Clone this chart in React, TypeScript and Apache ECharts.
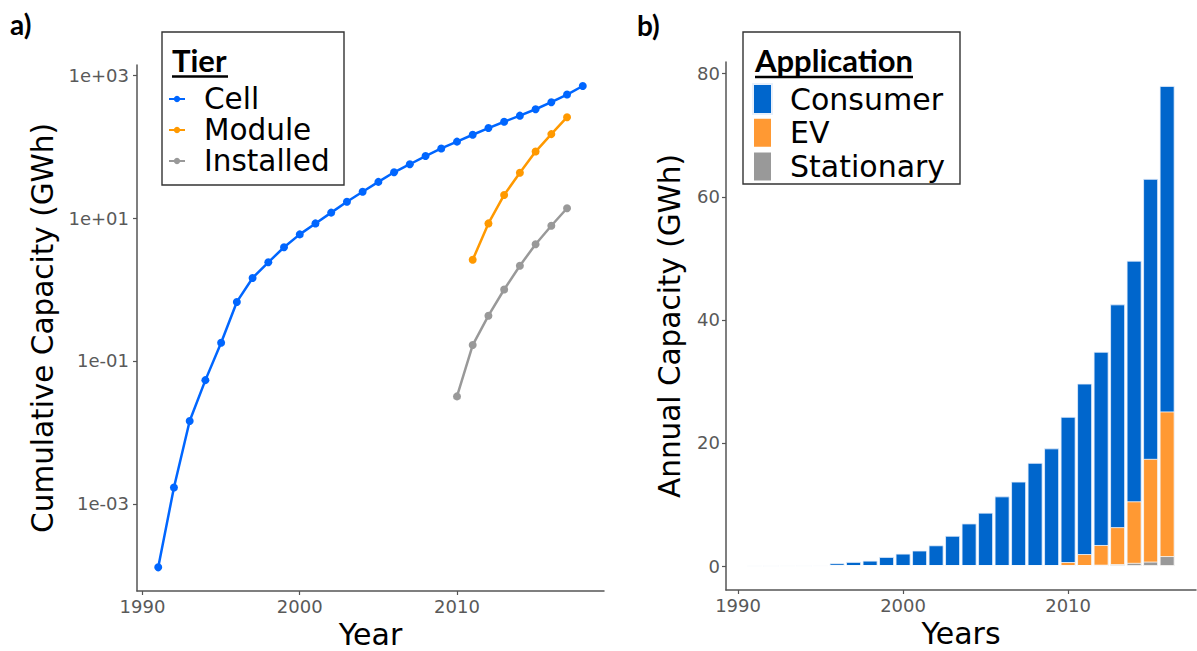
import React, { useEffect, useRef } from "react";
import * as echarts from "echarts";

// ---------- Panel a) cumulative capacity (GWh), log scale ----------
const cellYears = [1991, 1992, 1993, 1994, 1995, 1996, 1997, 1998, 1999, 2000, 2001, 2002, 2003, 2004, 2005, 2006, 2007, 2008, 2009, 2010, 2011, 2012, 2013, 2014, 2015, 2016, 2017, 2018];
const cellValues = [0.00013, 0.0017, 0.0145, 0.054, 0.18, 0.67, 1.45, 2.4, 3.9, 5.9, 8.4, 11.9, 16.9, 23.3, 32, 43.6, 56.5, 73.6, 94, 117, 146, 181, 222, 270, 332, 417, 533, 702];
const moduleYears = [2011, 2012, 2013, 2014, 2015, 2016, 2017];
const moduleValues = [2.6, 8.4, 21, 43, 85, 149, 257];
const installedYears = [2010, 2011, 2012, 2013, 2014, 2015, 2016, 2017];
const installedValues = [0.032, 0.167, 0.43, 1.0, 2.15, 4.3, 7.8, 13.7];
const logTickExponents = [-3, -1, 1, 3];
const yearTicks = [1990, 2000, 2010];

// ---------- Panel b) annual capacity (GWh), stacked bars ----------
const barYears = [1991, 1992, 1993, 1994, 1995, 1996, 1997, 1998, 1999, 2000, 2001, 2002, 2003, 2004, 2005, 2006, 2007, 2008, 2009, 2010, 2011, 2012, 2013, 2014, 2015, 2016];
const consumerValues = [0.0001, 0.0015, 0.013, 0.04, 0.13, 0.43, 0.65, 0.86, 1.46, 2.0, 2.5, 3.35, 4.9, 6.9, 8.65, 11.3, 13.7, 16.75, 19.1, 23.6, 27.7, 31.4, 36.2, 39.1, 45.5, 52.9];
const evValues = [0, 0, 0, 0, 0, 0, 0, 0, 0, 0, 0, 0, 0, 0, 0, 0, 0, 0, 0, 0.6, 1.8, 3.2, 6.0, 10.0, 16.7, 23.5];
const stationaryValues = [0, 0, 0, 0, 0, 0, 0, 0, 0, 0, 0, 0, 0, 0, 0, 0, 0, 0, 0, 0.03, 0.13, 0.2, 0.3, 0.5, 0.7, 1.6];
const annualTicks = [0, 20, 40, 60, 80];

const FONT = "DejaVu Sans";
const AXIS_COLOR = "#555555";
const LABEL_COLOR = "#595959";

function logFmt(v: number): string {
  const e = Math.round(v);
  const s = Math.abs(e) < 10 ? "0" + Math.abs(e) : String(Math.abs(e));
  return "1e" + (e >= 0 ? "+" : "-") + s;
}

function axisBase(ticks: number[], margin: number, formatter?: (v: number) => string) {
  return {
    axisLine: { show: true, onZero: false, lineStyle: { color: AXIS_COLOR, width: 1.5 } },
    axisTick: { show: true, length: 4, customValues: ticks, lineStyle: { color: AXIS_COLOR, width: 1.2 } },
    axisLabel: {
      show: true,
      customValues: ticks,
      color: LABEL_COLOR,
      fontSize: 18,
      fontFamily: FONT,
      margin,
      formatter: formatter ? (v: number) => formatter(v) : (v: number) => String(v),
    },
    splitLine: { show: false },
  };
}

export default function App() {
  const ref = useRef<HTMLDivElement>(null);

  useEffect(() => {
    const chart = echarts.init(ref.current!, null, { renderer: "svg" });

    const toPairs = (xs: number[], vs: number[], log: boolean) =>
      xs.map((x, i) => [x, log ? Math.log10(vs[i]) : vs[i]]);

    // stacked tops (Stationary at the bottom, then EV, then Consumer)
    const stationaryTop = stationaryValues.slice();
    const evTop = evValues.map((v, i) => v + stationaryTop[i]);
    const consumerTop = consumerValues.map((v, i) => v + evTop[i]);

    const barSeries = (name: string, tops: number[], color: string, border: string) => ({
      name,
      type: "bar",
      xAxisIndex: 1,
      yAxisIndex: 1,
      barWidth: "90%",
      barGap: "-100%",
      data: toPairs(barYears, tops, false),
      itemStyle: { color, borderColor: border, borderWidth: 0.8 },
    });

    const lineSeries = (name: string, xs: number[], vs: number[], color: string) => ({
      name,
      type: "line",
      xAxisIndex: 0,
      yAxisIndex: 0,
      data: toPairs(xs, vs, true),
      symbol: "circle",
      symbolSize: 8,
      color,
      lineStyle: { width: 2.5, color },
      itemStyle: { color },
    });

    const option: any = {
      animation: false,
      backgroundColor: "#ffffff",
      grid: [
        { left: 137, top: 65, width: 467, height: 526, outerBoundsMode: "none" },
        { left: 726, top: 62, width: 470, height: 528, outerBoundsMode: "none" },
      ],
      xAxis: [
        {
          type: "value",
          gridIndex: 0,
          min: 1989.65,
          max: 2019.35,
          ...axisBase(yearTicks, 6),
          name: "Year",
          nameLocation: "middle",
          nameGap: 28,
          nameTextStyle: { fontSize: 30, fontFamily: FONT, color: "#000" },
        },
        {
          type: "value",
          gridIndex: 1,
          min: 1989.27,
          max: 2017.75,
          ...axisBase(yearTicks, 6),
          name: "Years",
          nameLocation: "middle",
          nameGap: 28,
          nameTextStyle: { fontSize: 30, fontFamily: FONT, color: "#000" },
        },
      ],
      yAxis: [
        {
          type: "value",
          gridIndex: 0,
          min: -4.217,
          max: 3.14,
          ...axisBase(logTickExponents, 8, logFmt),
          name: "Cumulative Capacity (GWh)",
          nameLocation: "middle",
          nameGap: 79,
          nameTextStyle: { fontSize: 29.5, fontFamily: FONT, color: "#000" },
        },
        {
          type: "value",
          gridIndex: 1,
          min: -3.9,
          max: 81.9,
          ...axisBase(annualTicks, 6),
          name: "Annual Capacity (GWh)",
          nameLocation: "middle",
          nameGap: 41,
          nameTextStyle: { fontSize: 29.5, fontFamily: FONT, color: "#000" },
        },
      ],
      legend: [
        {
          data: ["Cell", "Module", "Installed"],
          orient: "vertical",
          left: 168,
          top: 83.5,
          padding: 0,
          itemGap: 0,
          itemWidth: 16,
          itemHeight: 8,
          selectedMode: false,
          textStyle: { fontSize: 29.5, fontFamily: FONT, color: "#000", lineHeight: 31, padding: [0, 0, 0, 14] },
        },
        {
          data: ["Consumer", "EV", "Stationary"],
          orient: "vertical",
          left: 752,
          top: 83,
          padding: 0,
          itemGap: 1.8,
          itemWidth: 19,
          itemHeight: 30,
          icon: "rect",
          selectedMode: false,
          textStyle: { fontSize: 30, fontFamily: FONT, color: "#000", lineHeight: 30, padding: [0, 0, 0, 13] },
        },
      ],
      graphic: [
        { type: "rect", z: 3, shape: { x: 162, y: 32, width: 182, height: 153 }, style: { fill: "#fff", stroke: "#333", lineWidth: 1.4 } },
        { type: "rect", z: 3, shape: { x: 743, y: 32, width: 217, height: 152 }, style: { fill: "#fff", stroke: "#333", lineWidth: 1.4 } },
        { type: "text", z: 5, style: { text: "Tier", x: 172, y: 60, fontSize: 31, fontWeight: "bold", fontFamily: "Lato", fill: "#000", verticalAlign: "middle" } },
        { type: "line", z: 5, shape: { x1: 172, y1: 76.5, x2: 228, y2: 76.5 }, style: { stroke: "#000", lineWidth: 2.5 } },
        { type: "text", z: 5, style: { text: "Application", x: 755, y: 60, fontSize: 31, fontWeight: "bold", fontFamily: "Lato", fill: "#000", verticalAlign: "middle" } },
        { type: "line", z: 5, shape: { x1: 755, y1: 77, x2: 913, y2: 77 }, style: { stroke: "#000", lineWidth: 2.5 } },
        { type: "text", z: 5, style: { text: "a)", x: 10, y: 24, fontSize: 28, fontWeight: "bold", fontFamily: "Lato", fill: "#000", verticalAlign: "middle" } },
        { type: "text", z: 5, style: { text: "b)", x: 637, y: 25, fontSize: 28, fontWeight: "bold", fontFamily: "Lato", fill: "#000", verticalAlign: "middle" } },
      ],
      series: [
        lineSeries("Cell", cellYears, cellValues, "#0066ff"),
        lineSeries("Module", moduleYears, moduleValues, "#ff9900"),
        lineSeries("Installed", installedYears, installedValues, "#999999"),
        barSeries("Consumer", consumerTop, "#0066cc", "#e8f0fb"),
        barSeries("EV", evTop, "#ff9933", "#ffffff"),
        barSeries("Stationary", stationaryTop, "#999999", "#ffffff"),
      ],
    };

    chart.setOption(option);
    return () => chart.dispose();
  }, []);

  return (
    <div
      ref={ref}
      style={{ position: "fixed", left: 0, top: 0, width: 1197, height: 651, background: "#fff" }}
    />
  );
}
